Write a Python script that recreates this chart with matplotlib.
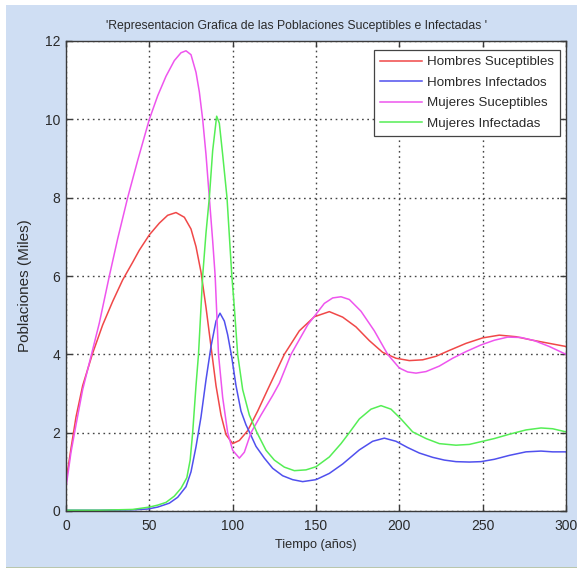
"""
Poblaciones susceptibles e infectadas (hombres / mujeres) frente al tiempo.
"""

import matplotlib
matplotlib.use("Agg")
import matplotlib.pyplot as plt
from matplotlib.patches import Rectangle

# ── datos (miles de individuos) ──────────────────────────────────────────────

t_hs = [0, 3, 6, 10, 16, 22, 28, 34, 40, 44, 50, 56, 61, 66, 71, 75, 78, 81,
        84, 87, 90, 93, 96, 100, 104, 109, 115, 121, 131, 140, 149, 158, 166,
        174, 182, 190, 198, 206, 214, 222, 230, 240, 250, 260, 270, 280, 290,
        300]
hombres_sus = [0.75, 1.6, 2.4, 3.2, 4.03, 4.75, 5.35, 5.9, 6.35, 6.66, 7.05,
               7.35, 7.55, 7.62, 7.5, 7.2, 6.75, 6.1, 5.2, 4.2, 3.2, 2.45, 1.95,
               1.72, 1.8, 2.05, 2.55, 3.1, 4.0, 4.6, 4.96, 5.09, 4.95, 4.7,
               4.35, 4.05, 3.9, 3.84, 3.86, 3.95, 4.1, 4.28, 4.42, 4.49, 4.45,
               4.36, 4.28, 4.2]

t_hi = [0, 20, 40, 49, 55, 62, 67, 72, 75, 78, 81, 84, 87, 90, 92.4, 95, 97,
        99.4, 102, 105, 108, 110, 114, 119, 124, 130, 136, 142, 150, 158, 166,
        176, 184, 191, 198, 205, 212, 220, 227, 234, 242, 249, 257, 266, 276,
        285, 292, 300]
hombres_inf = [0.02, 0.02, 0.03, 0.05, 0.1, 0.2, 0.35, 0.62, 1.0, 1.64, 2.4,
               3.35, 4.2, 4.85, 5.05, 4.85, 4.5, 3.94, 3.2, 2.55, 2.2, 2.02,
               1.65, 1.35, 1.09, 0.9, 0.8, 0.75, 0.8, 0.96, 1.2, 1.56, 1.78,
               1.86, 1.78, 1.62, 1.48, 1.37, 1.3, 1.26, 1.25, 1.26, 1.32, 1.42,
               1.51, 1.53, 1.51, 1.51]

t_ms = [0, 3, 6, 10, 15, 20, 26, 31, 37, 43, 50, 55, 60, 65, 69, 72, 75, 78,
        80, 82, 84, 86, 88, 89.5, 91.5, 94, 97, 100, 104, 107, 111, 117, 124,
        128, 135, 145, 155, 160, 165, 170, 177, 185, 193, 200, 205, 210, 216,
        224, 232, 240, 249, 257, 265, 273, 281, 290, 300]
mujeres_sus = [0.6, 1.5, 2.2, 3.1, 3.95, 4.8, 6.0, 6.95, 8.0, 8.95, 10.0,
               10.6, 11.1, 11.5, 11.7, 11.75, 11.65, 11.2, 10.7, 10.0, 9.1,
               8.0, 6.9, 6.0, 4.0, 2.9, 2.0, 1.55, 1.35, 1.5, 2.0, 2.45, 2.95,
               3.26, 4.0, 4.75, 5.3, 5.44, 5.47, 5.4, 5.1, 4.6, 4.0, 3.65, 3.55,
               3.52, 3.56, 3.7, 3.9, 4.07, 4.24, 4.36, 4.44, 4.43, 4.35, 4.2,
               4.0]

t_mi = [0, 20, 40, 50, 55, 60, 65, 69, 72.5, 74.5, 76, 78, 79.5, 82, 84, 86,
        88, 90.4, 92, 94, 96.6, 99.5, 101, 103, 106, 110, 114.6, 120, 125, 131,
        137, 144, 150, 158, 165, 170, 176, 183, 189, 195, 201, 208, 216, 224,
        234, 242, 249, 257, 266, 276, 285, 292, 300]
mujeres_inf = [0.02, 0.02, 0.04, 0.1, 0.15, 0.22, 0.38, 0.58, 0.85, 1.3, 2.0,
               3.2, 4.0, 6.0, 7.1, 8.0, 9.2, 10.08, 9.9, 9.1, 8.0, 6.0, 5.2,
               4.0, 3.1, 2.45, 2.0, 1.55, 1.3, 1.12, 1.03, 1.05, 1.13, 1.38,
               1.72, 2.0, 2.35, 2.6, 2.69, 2.6, 2.35, 2.02, 1.85, 1.72, 1.68,
               1.7, 1.77, 1.85, 1.96, 2.07, 2.12, 2.1, 2.02]

etiquetas = ["Hombres Suceptibles", "Hombres Infectados",
             "Mujeres Suceptibles", "Mujeres Infectadas"]

x_ticks = [0, 50, 100, 150, 200, 250, 300]
y_ticks = [0, 2, 4, 6, 8, 10, 12]

# ── estilo ───────────────────────────────────────────────────────────────────

CLR_PANEL = "#CFDEF3"
CLR_AXIS = "#3A3A3A"
CLR_TEXT = "#2A2A2A"
colores = ["#F04848", "#5050EE", "#EE55EE", "#55EE55"]

plt.rcParams.update({
    "font.family": ["Liberation Sans", "DejaVu Sans"],
    "text.color": CLR_TEXT,
    "axes.labelcolor": CLR_TEXT,
    "xtick.color": CLR_TEXT,
    "ytick.color": CLR_TEXT,
})

fig = plt.figure(figsize=(5.77, 5.69), dpi=100, facecolor="white")

# panel de fondo azul claro
fig.patches.append(Rectangle((6 / 577, 2 / 569), 1 - 6 / 577, 562 / 569,
                             transform=fig.transFigure, facecolor=CLR_PANEL,
                             edgecolor="none", zorder=-10))
fig.patches.append(Rectangle((6 / 577, 1 / 569), 1 - 6 / 577, 1.5 / 569,
                             transform=fig.transFigure, facecolor="#B9C6AC",
                             edgecolor="none", zorder=-9))

ax = fig.add_axes([66 / 577, 58 / 569, 500 / 577, 470 / 569])
ax.set_facecolor("white")

series = [(t_hs, hombres_sus), (t_hi, hombres_inf),
          (t_ms, mujeres_sus), (t_mi, mujeres_inf)]
for (t, v), c, lab in zip(series, colores, etiquetas):
    ax.plot(t, v, color=c, lw=1.1, label=lab)

ax.set_xlim(0, 300)
ax.set_ylim(0, 12)
ax.set_xticks(x_ticks)
ax.set_yticks(y_ticks)
ax.grid(True, linestyle=(0, (1.2, 2.6)), color="#444444", linewidth=1.0)
ax.set_axisbelow(True)

for sp in ax.spines.values():
    sp.set_color(CLR_AXIS)
    sp.set_linewidth(1.0)
ax.tick_params(direction="in", length=4, width=1, color=CLR_AXIS,
               top=True, right=True, labelsize=10)
ax.tick_params(axis="x", pad=6)
ax.tick_params(axis="y", pad=4)

ax.set_title("'Representacion Grafica de las Poblaciones Suceptibles e Infectadas '",
             fontsize=8.8, pad=9, x=0.462)
ax.set_xlabel("Tiempo (años)", fontsize=9.2, labelpad=4)
ax.set_ylabel("Poblaciones (Miles)", fontsize=11)
ax.yaxis.set_label_coords(-0.067, 0.479)

leg = ax.legend(loc="upper right", bbox_to_anchor=(0.988, 0.981),
                fancybox=False, framealpha=1, edgecolor="#444444",
                fontsize=9.6, handlelength=3.1, handletextpad=0.4,
                labelspacing=0.62, borderpad=0.45, borderaxespad=0)
leg.get_frame().set_linewidth(0.9)

fig.savefig("out.png", dpi=100, facecolor=fig.get_facecolor())
